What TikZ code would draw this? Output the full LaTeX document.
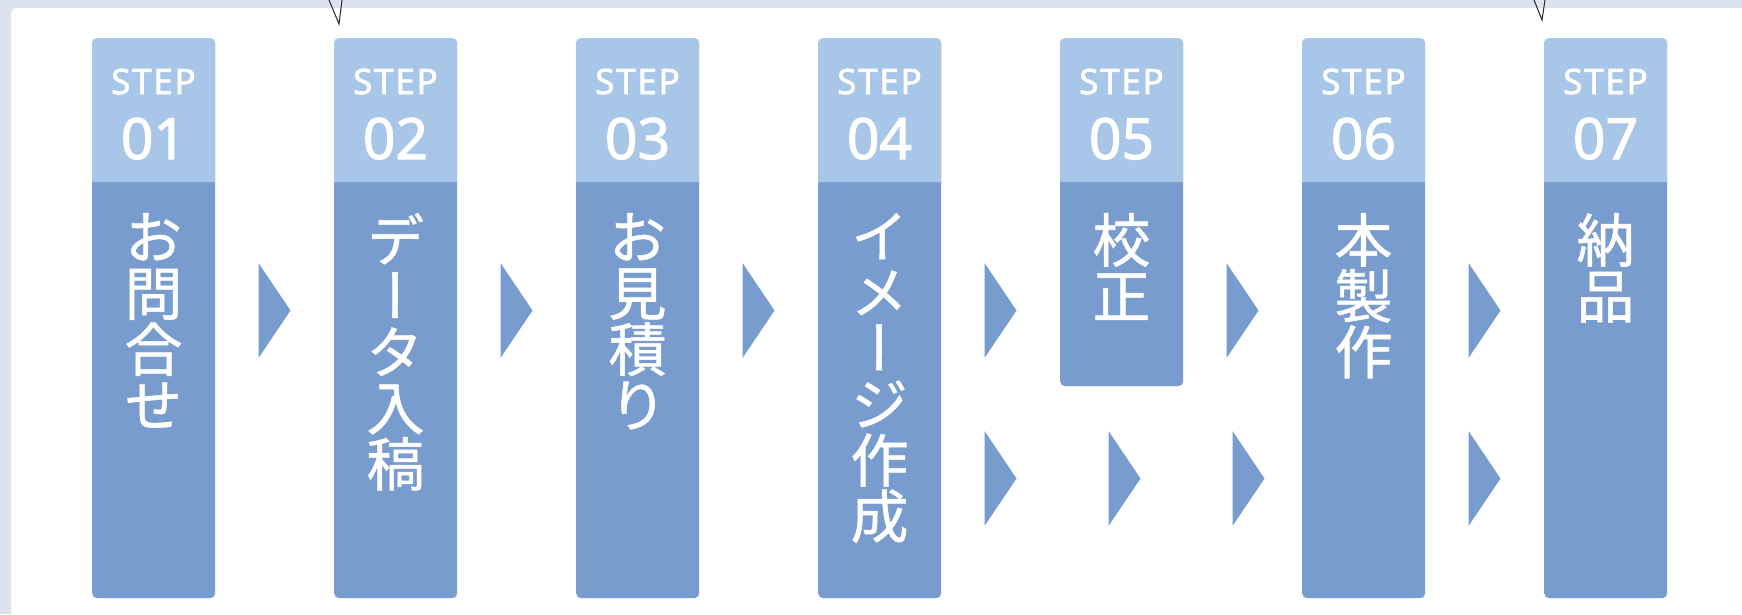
\documentclass[tikz,border=0pt]{standalone}
\usepackage{fontspec}
\newfontfamily\jpfont[RawFeature=+vert, FakeBold=0.9]{Noto Sans CJK JP}
\newfontfamily\numfont[FakeBold=1.8]{Noto Sans}
\definecolor{headblue}{HTML}{A8C6E8}
\definecolor{bodyblue}{HTML}{789CCD}
\definecolor{bggrey}{HTML}{DDE3EE}
\tikzset{
  stepbox/.style={fill=bodyblue, rounded corners=5pt, minimum width=123pt, inner sep=0pt, anchor=north west},
  steptag/.style={text=white, font=\numfont\fontsize{35}{35}\selectfont\addfontfeature{LetterSpace=5}, inner sep=0pt, anchor=base},
  stepnum/.style={text=white, font=\numfont\fontsize{57}{57}\selectfont, inner sep=0pt, anchor=base},
  steptext/.style={text=white, font=\jpfont\fontsize{58}{56}\selectfont, align=center, inner sep=0pt, anchor=north}
}

\begin{document}
\begin{tikzpicture}[x=1pt, y=-1pt]
    \useasboundingbox (0,0) rectangle (1742,614);
    \clip (0,0) rectangle (1742,614);
    \fill[bggrey] (0,0) rectangle (1742,614);
    \fill[white, rounded corners=6] (11,8) rectangle (1800,660);
    \draw[line width=1, black!85] (329,0) -- (339,24) -- (342,0);
    \draw[line width=1, black!85] (1534,0) -- (1542,20) -- (1545,0);

    % step 01
    \node[stepbox, minimum height=560] (box1) at (92,38) {};
    \fill[headblue] (92,182) [rounded corners=5] -- (92,38) -- (215,38) [sharp corners] -- (215,182) -- cycle;
    \node[steptag] (tag1) at (153.5,94) {STEP};
    \node[stepnum] (num1) at (153.5,159) {01};
    \node[steptext] (txt1) at (153.5,213) {お\\問\\合\\せ};

    % step 02
    \node[stepbox, minimum height=560] (box2) at (334,38) {};
    \fill[headblue] (334,182) [rounded corners=5] -- (334,38) -- (457,38) [sharp corners] -- (457,182) -- cycle;
    \node[steptag] (tag2) at (395.5,94) {STEP};
    \node[stepnum] (num2) at (395.5,159) {02};
    \node[steptext] (txt2) at (395.5,213) {デ\\ー\\タ\\入\\稿};

    % step 03
    \node[stepbox, minimum height=560] (box3) at (576,38) {};
    \fill[headblue] (576,182) [rounded corners=5] -- (576,38) -- (699,38) [sharp corners] -- (699,182) -- cycle;
    \node[steptag] (tag3) at (637.5,94) {STEP};
    \node[stepnum] (num3) at (637.5,159) {03};
    \node[steptext] (txt3) at (637.5,213) {お\\見\\積\\り};

    % step 04
    \node[stepbox, minimum height=560] (box4) at (818,38) {};
    \fill[headblue] (818,182) [rounded corners=5] -- (818,38) -- (941,38) [sharp corners] -- (941,182) -- cycle;
    \node[steptag] (tag4) at (879.5,94) {STEP};
    \node[stepnum] (num4) at (879.5,159) {04};
    \node[steptext] (txt4) at (879.5,213) {イ\\メ\\ー\\ジ\\作\\成};

    % step 05 (short one)
    \node[stepbox, minimum height=348] (box5) at (1060,38) {};
    \fill[headblue] (1060,182) [rounded corners=5] -- (1060,38) -- (1183,38) [sharp corners] -- (1183,182) -- cycle;
    \node[steptag] (tag5) at (1121.5,94) {STEP};
    \node[stepnum] (num5) at (1121.5,159) {05};
    \node[steptext] (txt5) at (1121.5,213) {校\\正};

    % step 06
    \node[stepbox, minimum height=560] (box6) at (1302,38) {};
    \fill[headblue] (1302,182) [rounded corners=5] -- (1302,38) -- (1425,38) [sharp corners] -- (1425,182) -- cycle;
    \node[steptag] (tag6) at (1363.5,94) {STEP};
    \node[stepnum] (num6) at (1363.5,159) {06};
    \node[steptext] (txt6) at (1363.5,213) {本\\製\\作};

    % step 07
    \node[stepbox, minimum height=560] (box7) at (1544,38) {};
    \fill[headblue] (1544,182) [rounded corners=5] -- (1544,38) -- (1667,38) [sharp corners] -- (1667,182) -- cycle;
    \node[steptag] (tag7) at (1605.5,94) {STEP};
    \node[stepnum] (num7) at (1605.5,159) {07};
    \node[steptext] (txt7) at (1605.5,213) {納\\品};

    % arrows, upper row
    \fill[bodyblue] (258.5,263) -- (290.5,310.5) -- (258.5,358) -- cycle;
    \fill[bodyblue] (500.5,263) -- (532.5,310.5) -- (500.5,358) -- cycle;
    \fill[bodyblue] (742.5,263) -- (774.5,310.5) -- (742.5,358) -- cycle;
    \fill[bodyblue] (984.5,263) -- (1016.5,310.5) -- (984.5,358) -- cycle;
    \fill[bodyblue] (1226.5,263) -- (1258.5,310.5) -- (1226.5,358) -- cycle;
    \fill[bodyblue] (1468.5,263) -- (1500.5,310.5) -- (1468.5,358) -- cycle;
    % arrows, lower row
    \fill[bodyblue] (984.5,431) -- (1016.5,478.5) -- (984.5,526) -- cycle;
    \fill[bodyblue] (1108.5,431) -- (1140.5,478.5) -- (1108.5,526) -- cycle;
    \fill[bodyblue] (1232.5,431) -- (1264.5,478.5) -- (1232.5,526) -- cycle;
    \fill[bodyblue] (1468.5,431) -- (1500.5,478.5) -- (1468.5,526) -- cycle;
\end{tikzpicture}
\end{document}
